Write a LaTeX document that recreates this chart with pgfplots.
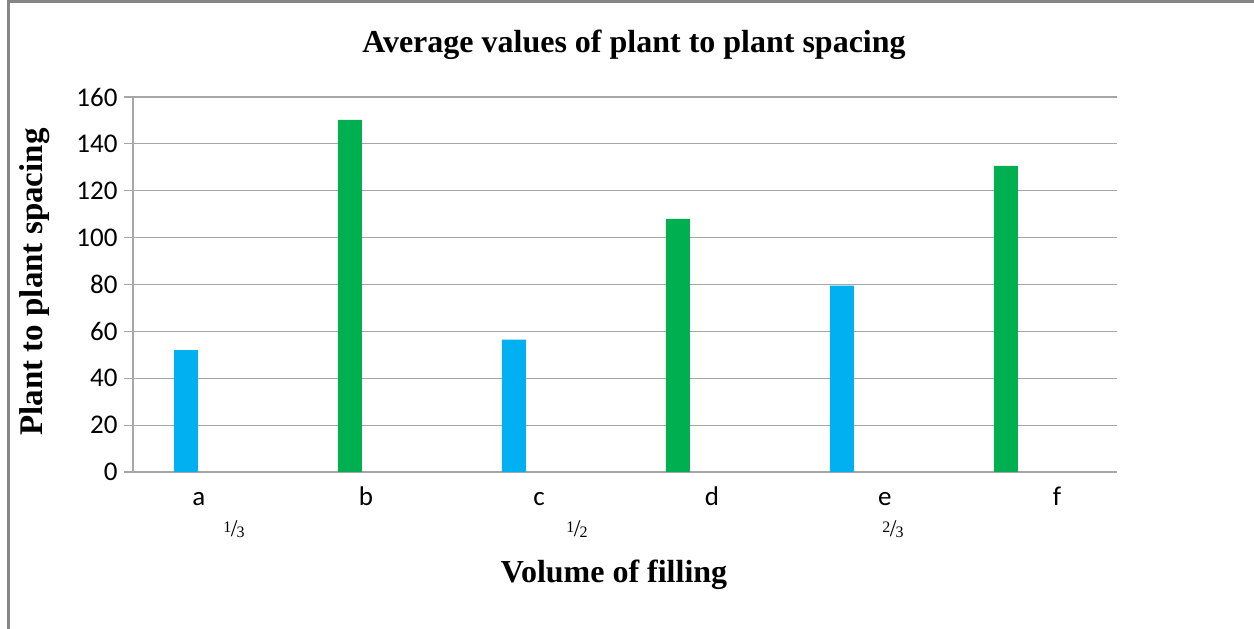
\documentclass[border=0pt]{standalone}
\usepackage{pgfplots}
\pgfplotsset{compat=1.18}
\usepackage{fontspec}
\setmainfont{Liberation Serif}
\newfontfamily\calibri{Carlito}

\definecolor{barblue}{RGB}{0,176,240}
\definecolor{bargreen}{RGB}{0,176,80}
\definecolor{gridgray}{RGB}{166,166,166}
\definecolor{framegray}{RGB}{134,134,134}

% fraction labels built from raised and lowered digits
\newcommand{\vfrac}[2]{\raisebox{0.45em}{\fontsize{16bp}{16bp}\selectfont #1}\kern-0.05em{\fontsize{24bp}{24bp}\selectfont /}\kern-0.08em\raisebox{-0.05em}{\fontsize{16bp}{16bp}\selectfont #2}}

\begin{document}
\begin{tikzpicture}[x=1bp,y=1bp]
\path[use as bounding box] (0,0) rectangle (1254,629);
\draw[framegray, line width=3bp] (8.5,0) -- (8.5,627) -- (1254,627);

\begin{axis}[
  at={(133bp,157bp)}, anchor=origin,
  scale only axis,
  width=984bp, height=375bp,
  xmin=0, xmax=6, ymin=0, ymax=160,
  axis x line=bottom, axis y line=left,
  axis line style={gridgray, line width=1.2bp, -},
  ytick={0,20,...,160},
  xtick={0.402,1.421,2.476,3.530,4.585,5.634},
  xticklabels={a,b,c,d,e,f},
  x tick style={draw=none},
  y tick style={gridgray, line width=1.2bp},
  tick align=outside,
  major tick length=9bp,
  ymajorgrids,
  grid style={gridgray, line width=1.2bp},
  ticklabel style={font=\calibri\fontsize{27bp}{32bp}\selectfont},
  /pgf/number format/assume math mode=true,
  yticklabel style={anchor=east, xshift=-3bp},
  xticklabel style={anchor=base, yshift=-25bp},
  clip=false,
]
\addplot[ybar, bar width=24bp, bar shift=0bp, fill=barblue, draw=none]
  coordinates {(0.323,52) (2.323,56.5) (4.323,79.5)};
\addplot[ybar, bar width=24bp, bar shift=0bp, fill=bargreen, draw=none]
  coordinates {(1.323,150.2) (3.323,108) (5.323,130.6)};
\end{axis}

% second row of category labels (volume of filling)
\node[anchor=base] at (234,92) {\vfrac{1}{3}};
\node[anchor=base] at (577,92) {\vfrac{1}{2}};
\node[anchor=base] at (893,92) {\vfrac{2}{3}};

% titles
\node[font=\bfseries\fontsize{32bp}{38bp}\selectfont] at (634,584) {Average values of plant to plant spacing};
\node[font=\bfseries\fontsize{32bp}{38bp}\selectfont] at (614,54) {Volume of filling};
\node[font=\bfseries\fontsize{33bp}{40bp}\selectfont, rotate=90] at (35,347) {Plant to plant spacing};
\end{tikzpicture}
\end{document}
